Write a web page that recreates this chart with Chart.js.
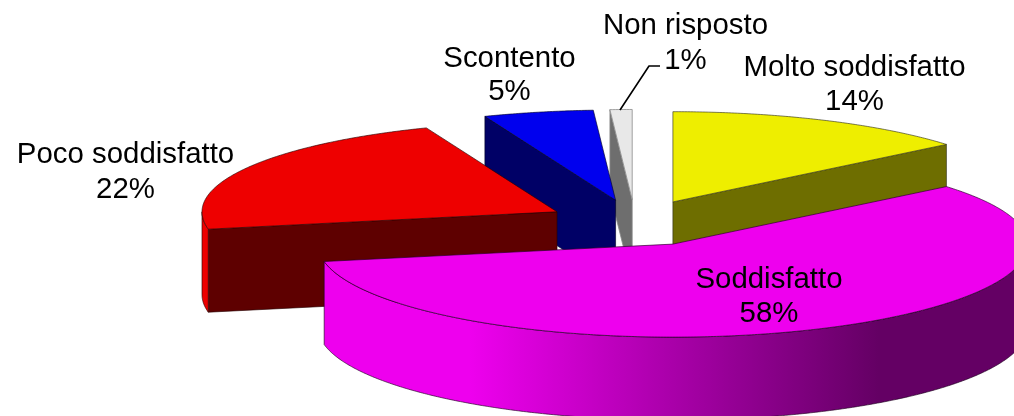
<!DOCTYPE html>
<html>
<head>
<meta charset="utf-8">
<style>html,body{margin:0;padding:0;background:#fff}canvas{display:block}</style>
<script src="https://cdn.jsdelivr.net/npm/chart.js@4/dist/chart.umd.js"></script>
</head>
<body>
<canvas id="c" width="1014" height="416"></canvas>
<script>
const categories = ['Molto soddisfatto', 'Soddisfatto', 'Poco soddisfatto', 'Scontento', 'Non risposto'];
const values = [14, 58, 22, 5, 1];

const topColors  = ['#eeee00', '#ee00ee', '#ee0000', '#0000ee', '#e8e8e8'];
const wallColors = ['#6e6e00', '#660066', '#5e0000', '#000066', '#6e6e6e'];
const rimStops = {
  1: [[0, '#ee00ee'], [0.214, '#ee00ee'], [0.496, '#aa00aa'], [0.79, '#640064'], [1, '#640064']]
};
const edgeColors = ['rgba(50,50,30,.8)', 'rgba(30,0,30,.8)', 'rgba(40,0,0,.8)', 'rgba(0,0,40,.8)', '#8c8c8c'];
const labelAnchors = [[854.5, 68, 102], [769, 280, 314], [125.5, 155, 190], [509.5, 59, 92], [685.5, 26, 61]];

const TILT = 0.262, BACK = 0.97, DEPTH = 83;

const pie3d = {
  id: 'pie3d',
  beforeDatasetDraw(chart) {
    const ctx = chart.ctx;
    const meta = chart.getDatasetMeta(0);
    const items = meta.data.map((arc, i) => {
      const p = arc.getProps(['x', 'y', 'startAngle', 'endAngle', 'outerRadius'], true);
      const mid = (p.startAngle + p.endAngle) / 2;
      const off = arc.options.offset;
      return { i, p, mid,
        ax: p.x + off * Math.cos(mid),
        ay: p.y + TILT * off * Math.sin(mid) };
    }).sort((a, b) => Math.sin(a.mid) - Math.sin(b.mid));

    for (const s of items) {
      const { i, p } = s;
      const R = p.outerRadius;
      const pt = a => {
        const sn = Math.sin(a);
        return [s.ax + R * Math.cos(a), s.ay + TILT * R * sn * (sn < 0 ? BACK : 1)];
      };
      // trace the rim from a0 to a1 as a fine polyline, dropped by dy
      const rim = (a0, a1, dy) => {
        const n = Math.max(2, Math.ceil(Math.abs(a1 - a0) * 120));
        for (let k = 0; k <= n; k++) {
          const q = pt(a0 + (a1 - a0) * k / n);
          ctx.lineTo(q[0], q[1] + dy);
        }
      };
      ctx.lineWidth = 0.8;
      ctx.lineJoin = 'round';
      ctx.strokeStyle = edgeColors[i];

      // radial side walls that face the viewer
      const wall = a => {
        const e = pt(a);
        ctx.beginPath();
        ctx.moveTo(s.ax, s.ay);
        ctx.lineTo(e[0], e[1]);
        ctx.lineTo(e[0], e[1] + DEPTH);
        ctx.lineTo(s.ax, s.ay + DEPTH);
        ctx.closePath();
        ctx.fillStyle = wallColors[i];
        ctx.fill();
        ctx.stroke();
      };
      if (-Math.cos(p.startAngle) > 1e-6) wall(p.startAngle);
      if (Math.cos(p.endAngle) > 1e-6) wall(p.endAngle);

      // outer rim: the part of the arc on the near side
      const twoPi = Math.PI * 2;
      for (const k of [-1, 0, 1]) {
        const a0 = Math.max(p.startAngle, k * twoPi);
        const a1 = Math.min(p.endAngle, k * twoPi + Math.PI);
        if (a1 <= a0) continue;
        const g = ctx.createLinearGradient(s.ax - R, 0, s.ax + R, 0);
        const stops = rimStops[i] || [[0, topColors[i]], [1, wallColors[i]]];
        stops.forEach(st => g.addColorStop(st[0], st[1]));
        ctx.beginPath();
        rim(a0, a1, 0);
        rim(a1, a0, DEPTH);
        ctx.closePath();
        ctx.fillStyle = g;
        ctx.fill();
        ctx.stroke();
      }

      // top face
      ctx.beginPath();
      ctx.moveTo(s.ax, s.ay);
      rim(p.startAngle, p.endAngle, 0);
      ctx.closePath();
      ctx.fillStyle = topColors[i];
      ctx.fill();
      ctx.stroke();
    }
    return false;
  },
  afterDatasetsDraw(chart) {
    const ctx = chart.ctx;
    ctx.save();
    ctx.fillStyle = '#000';
    ctx.font = '29.4px "Liberation Sans", Arial, sans-serif';
    ctx.textAlign = 'center';
    ctx.textBaseline = 'middle';
    const total = values.reduce((a, b) => a + b, 0);
    categories.forEach((name, i) => {
      const [x, y1, y2] = labelAnchors[i];
      ctx.fillText(name, x, y1);
      ctx.fillText(Math.round(values[i] / total * 100) + '%', x, y2);
    });
    // leader line for the smallest slice
    ctx.strokeStyle = '#000';
    ctx.lineWidth = 1.6;
    ctx.beginPath();
    ctx.moveTo(620, 110);
    ctx.lineTo(649, 66);
    ctx.lineTo(660, 66);
    ctx.stroke();
    ctx.restore();
  }
};

new Chart(document.getElementById('c'), {
  type: 'pie',
  data: {
    labels: categories,
    datasets: [{ data: values, backgroundColor: topColors, borderWidth: 0, offset: 89, radius: 355 }]
  },
  options: {
    responsive: false,
    animation: false,
    layout: { padding: { left: 256, top: 30 } },
    plugins: { legend: { display: false }, tooltip: { enabled: false } }
  },
  plugins: [pie3d]
});
</script>
</body>
</html>
